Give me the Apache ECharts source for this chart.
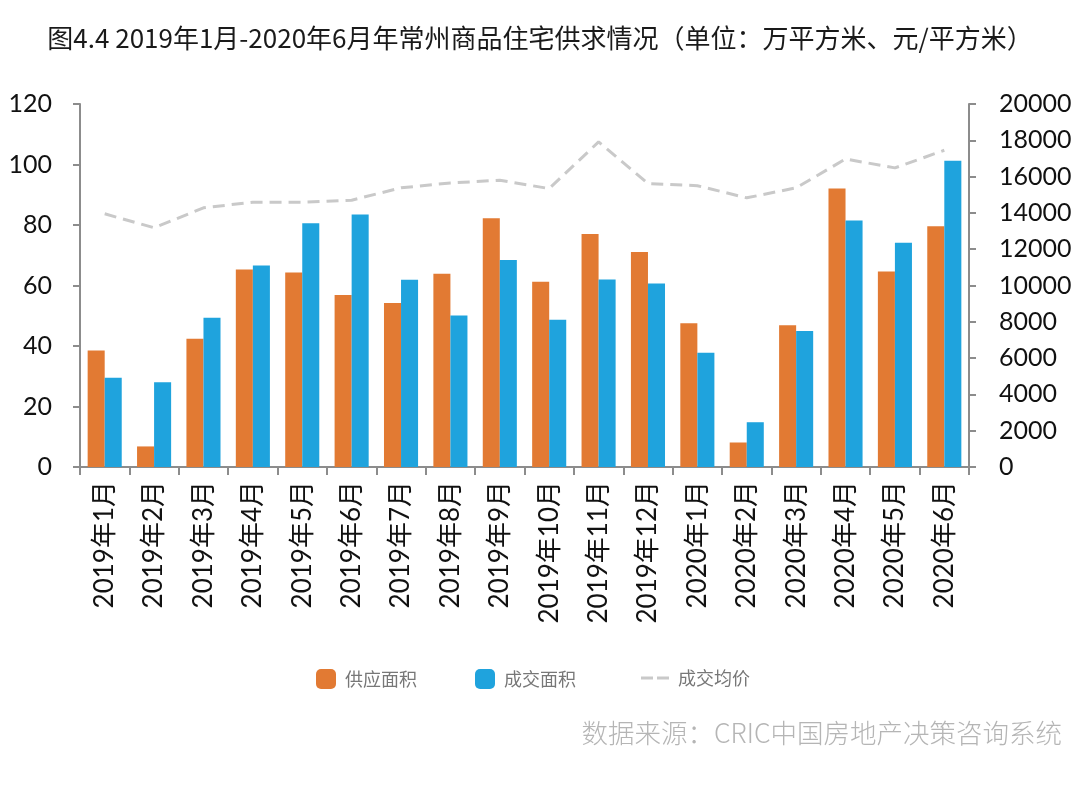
<!DOCTYPE html>
<html>
<head>
<meta charset="utf-8">
<script src="https://cdn.jsdelivr.net/npm/echarts@6/dist/echarts.min.js"></script>
<style>
html,body{margin:0;padding:0;background:#fff;}
#chart{width:1080px;height:788px;}
</style>
</head>
<body>
<div id="chart"></div>
<script>
const categories = ['2019年1月','2019年2月','2019年3月','2019年4月','2019年5月','2019年6月','2019年7月','2019年8月','2019年9月','2019年10月','2019年11月','2019年12月','2020年1月','2020年2月','2020年3月','2020年4月','2020年5月','2020年6月'];
const supplyArea = [38.5, 6.8, 42.4, 65.3, 64.3, 56.9, 54.2, 63.9, 82.2, 61.2, 77.0, 71.1, 47.5, 8.1, 46.9, 92.1, 64.6, 79.6];
const dealArea = [29.5, 28.0, 49.3, 66.6, 80.6, 83.5, 61.9, 50.1, 68.4, 48.7, 62.0, 60.7, 37.8, 14.8, 45.0, 81.5, 74.1, 101.2];
const avgPrice = [13950, 13180, 14280, 14590, 14590, 14700, 15380, 15650, 15800, 15340, 17910, 15620, 15500, 14830, 15380, 16970, 16480, 17450];
const leftTicks = [0, 20, 40, 60, 80, 100, 120];
const rightTicks = [0, 2000, 4000, 6000, 8000, 10000, 12000, 14000, 16000, 18000, 20000];

const titleText = '图4.4 2019年1月-2020年6月年常州商品住宅供求情况（单位：万平方米、元/平方米）';
const sourceText = '数据来源：CRIC中国房地产决策咨询系统';

const FONT = 'Lato, "Noto Sans CJK SC", sans-serif';
const axisColor = '#8c8c8c';

const chart = echarts.init(document.getElementById('chart'));
const legendText = {color: '#777', fontSize: 18, fontFamily: '"Noto Sans CJK SC", sans-serif', padding: [0, 0, 0, 4]};
chart.setOption({
  animation: false,
  backgroundColor: '#fff',
  title: {
    text: titleText,
    left: 'center',
    top: 20,
    textStyle: {fontSize: 26, fontWeight: 'normal', color: '#1a1a1a', fontFamily: '"Noto Sans CJK SC", sans-serif'}
  },
  legend: [
    {data: ['供应面积'], left: 311, top: 664, itemWidth: 20, itemHeight: 20, textStyle: legendText},
    {data: ['成交面积'], left: 470, top: 664, itemWidth: 20, itemHeight: 20, textStyle: legendText},
    {data: [{name: '成交均价', icon: 'path://M0,0H12V3H0Z M16,0H28V3H16Z', itemStyle: {color: '#c9c9c9'}}],
     left: 636, top: 664, itemWidth: 28, itemHeight: 3, textStyle: legendText}
  ],
  grid: {left: 80, right: 111, top: 104, bottom: 321, containLabel: false},
  xAxis: {
    type: 'category',
    data: categories,
    boundaryGap: true,
    axisLine: {lineStyle: {color: axisColor, width: 2}},
    axisTick: {show: true, length: 8, alignWithLabel: false, lineStyle: {color: axisColor, width: 2}},
    axisLabel: {rotate: 90, interval: 0, fontSize: 26, color: '#111', margin: 14, fontFamily: FONT}
  },
  yAxis: [
    {
      type: 'value', min: leftTicks[0], max: leftTicks[leftTicks.length - 1], interval: 20,
      splitLine: {show: false},
      axisLine: {show: true, lineStyle: {color: axisColor, width: 2}},
      axisTick: {show: true, length: 7, lineStyle: {color: axisColor, width: 2}},
      axisLabel: {fontSize: 25, color: '#111', margin: 28, fontFamily: FONT}
    },
    {
      type: 'value', min: rightTicks[0], max: rightTicks[rightTicks.length - 1], interval: 2000,
      splitLine: {show: false},
      axisLine: {show: true, lineStyle: {color: axisColor, width: 2}},
      axisTick: {show: true, length: 7, lineStyle: {color: axisColor, width: 2}},
      axisLabel: {fontSize: 25, color: '#111', margin: 30, fontFamily: FONT, formatter: function (v) { return String(v); }}
    }
  ],
  series: [
    {
      name: '供应面积', type: 'bar', yAxisIndex: 0, data: supplyArea,
      barGap: '0%', barCategoryGap: '31%',
      itemStyle: {color: '#e27a33'}
    },
    {
      name: '成交面积', type: 'bar', yAxisIndex: 0, data: dealArea,
      barGap: '0%', barCategoryGap: '31%',
      itemStyle: {color: '#1fa3dd'}
    },
    {
      name: '成交均价', type: 'line', yAxisIndex: 1, data: avgPrice,
      symbol: 'none', showSymbol: false,
      lineStyle: {color: '#c9c9c9', width: 3, type: [12, 7]},
      itemStyle: {color: '#c9c9c9'}
    }
  ],
  graphic: [
    {
      type: 'text', right: 18, top: 720,
      style: {text: sourceText, fill: '#b5b5b5', fontSize: 26.5, fontFamily: '"Noto Sans CJK SC", sans-serif', fontWeight: 300}
    }
  ]
});
</script>
</body>
</html>
